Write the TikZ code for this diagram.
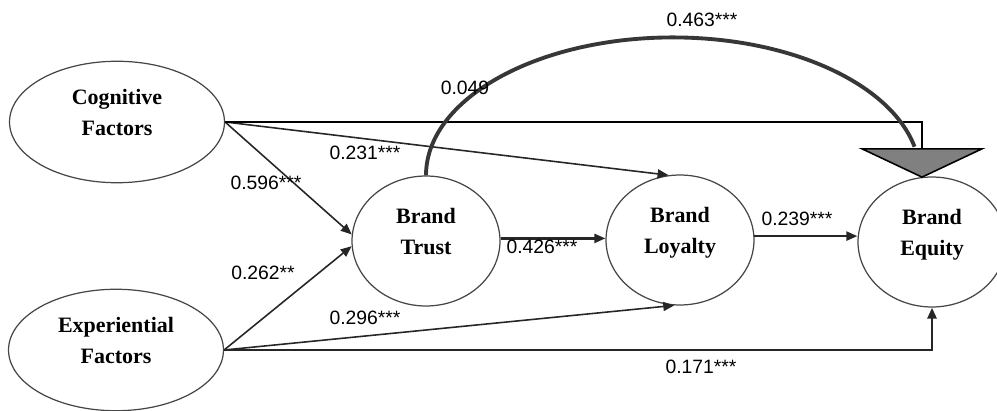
\documentclass[tikz,border=0pt]{standalone}
\usepackage{fontspec}
\setmainfont{Liberation Serif}
\setsansfont{Liberation Sans}
\usetikzlibrary{arrows.meta,shapes.geometric}
\definecolor{EdgeGray}{RGB}{70,70,70}
\definecolor{HeadGray}{RGB}{128,128,128}
\definecolor{ArcGray}{RGB}{55,55,55}

\begin{document}
\begin{tikzpicture}[
  x=0.02cm,y=-0.02cm,
  factor/.style={ellipse,draw=EdgeGray,line width=0.7pt,inner sep=0pt,align=center,
    font=\bfseries\fontsize{12.5}{17.5}\selectfont,text depth=11pt},
  outer/.style={factor,minimum width=4.3cm,minimum height=2.43cm},
  latent/.style={factor,minimum width=2.96cm,minimum height=2.6cm},
  coef/.style={font=\sffamily\fontsize{11}{13}\selectfont,inner sep=0pt},
  arr/.style={-{Triangle[length=2.2mm,width=1.8mm]},line width=0.9pt,black!85},
  harr/.style={arr,line width=1.3pt},
  bighead/.style={-{Triangle[length=0.6cm,width=2.54cm,fill=HeadGray,line width=0.9pt]},line width=1.2pt},
  bigarc/.style={line width=2.2pt,ArcGray}
]
\useasboundingbox (0,0) rectangle (997,411);
\clip (0,0) rectangle (997,411);

\node[outer] (cog) at (117,122) {Cognitive\\Factors};
\node[outer] (exp) at (116,350) {Experiential\\Factors};
\node[latent] (trust) at (426,241) {Brand\\Trust};
\node[latent] (loyal) at (680,240) {Brand\\Loyalty};
\node[latent] (equity) at (932,242) {Brand\\Equity};
\coordinate (eqtip) at (922,178);

\draw[arr] (cog.east) -- (trust.175);
\draw[arr] (exp.east) -- (trust.184);
\draw[arr] (cog.east) -- (loyal.100);
\draw[arr] (exp.east) -- (loyal.265);
\draw[harr] (trust.2) -- (trust.2 -| loyal.west);
\draw[harr] (loyal.3) -- (loyal.3 -| equity.west);
\draw[harr,line width=1.6pt] (exp.east) -| (equity.south);
\draw[bighead] (cog.east) -| (eqtip);
\draw[bigarc] (trust.north) arc[start angle=180,end angle=12,x radius=4.94cm,y radius=2.76cm];

\node[coef] (l463) at (702,20) {0.463***};
\node[coef] (l049) at (465,88) {0.049};
\node[coef] (l231) at (365,153) {0.231***};
\node[coef] (l596) at (266,183) {0.596***};
\node[coef] (l262) at (263,273) {0.262**};
\node[coef] (l296) at (365,318) {0.296***};
\node[coef] (l426) at (542,247) {0.426***};
\node[coef] (l239) at (797,219) {0.239***};
\node[coef] (l171) at (701,367) {0.171***};
\end{tikzpicture}
\end{document}
